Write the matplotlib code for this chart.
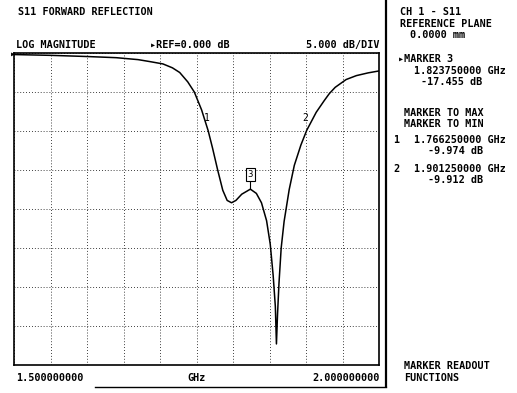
import matplotlib
matplotlib.use("Agg")
from matplotlib import pyplot as plt

# Data
freq_ghz = [1.500, 1.550, 1.600, 1.640, 1.670, 1.686, 1.704, 1.717, 1.727, 1.738,
            1.747, 1.757, 1.766, 1.772, 1.779, 1.786, 1.792, 1.798, 1.804, 1.812,
            1.8238, 1.832, 1.839, 1.846, 1.851, 1.855, 1.858, 1.8595, 1.861, 1.863,
            1.866, 1.870, 1.877, 1.884, 1.893, 1.901, 1.914, 1.925, 1.932, 1.940,
            1.955, 1.969, 1.985, 2.000]
s11_db = [-0.2, -0.3, -0.45, -0.6, -0.85, -1.1, -1.4, -1.9, -2.5, -3.7,
          -5.0, -7.3, -9.97, -12.2, -15.0, -17.6, -18.9, -19.2, -18.9, -18.1,
          -17.455, -18.0, -19.2, -21.5, -24.5, -28.5, -32.5, -37.3, -33.5, -29.5,
          -25.0, -21.6, -17.5, -14.4, -11.8, -9.91, -7.6, -6.1, -5.2, -4.4,
          -3.4, -2.9, -2.55, -2.3]

marker_freq = [1.76625, 1.90125, 1.82375]
marker_db = [-9.974, -9.912, -17.455]

fig = plt.figure(figsize=(5.17, 3.93), dpi=100)
W, H = 517, 393
ax = fig.add_axes([14 / W, 1 - 365 / H, 365 / W, 312 / H])

ax.plot(freq_ghz, s11_db, color="black", linewidth=1.1)
ax.set_xlim(1.5, 2.0)
ax.set_ylim(-40, 0)
ax.set_xticks([1.5 + 0.05 * i for i in range(11)])
ax.set_yticks([-5 * i for i in range(9)])
ax.tick_params(left=False, bottom=False, labelleft=False, labelbottom=False)
ax.grid(True, color="black", linestyle=(0, (1, 2.5)), linewidth=0.6)
for s in ax.spines.values():
    s.set_linewidth(1.2)

# marker annotations
ax.text(marker_freq[0] - 0.002, -8.3, "1", fontsize=7, family="DejaVu Sans Mono",
        ha="center", va="center")
ax.text(marker_freq[1] - 0.002, -8.3, "2", fontsize=7, family="DejaVu Sans Mono",
        ha="center", va="center")
ax.plot([marker_freq[2], marker_freq[2]], [-16.2, marker_db[2]], color="black", lw=0.8)
ax.text(marker_freq[2], -15.6, "3", fontsize=6.5, family="DejaVu Sans Mono",
        ha="center", va="center",
        bbox=dict(boxstyle="square,pad=0.2", fc="white", ec="black", lw=0.8))

font = dict(family="DejaVu Sans Mono", fontsize=7.3, fontweight="bold", color="black")


def t(x, y, s, ha="left"):
    fig.text(x / W, 1 - y / H, s, ha=ha, va="center", **font)


t(18, 12, "S11 FORWARD REFLECTION")
t(16, 45, "LOG MAGNITUDE")
t(150, 45, "▸REF=0.000 dB")
t(380, 45, "5.000 dB/DIV", ha="right")
t(16, 378, "1.500000000")
t(197, 378, "GHz", ha="center")
t(380, 378, "2.000000000", ha="right")

t(400, 12, "CH 1 - S11")
t(400, 24, "REFERENCE PLANE")
t(410, 35, "0.0000 mm")
t(398, 59, "▸MARKER 3")
t(414, 71, "1.823750000 GHz")
t(421, 82, "-17.455 dB")
t(404, 113, "MARKER TO MAX")
t(404, 124, "MARKER TO MIN")
t(393, 140, "1")
t(414, 140, "1.766250000 GHz")
t(428, 151, "-9.974 dB")
t(393, 169, "2")
t(414, 169, "1.901250000 GHz")
t(428, 180, "-9.912 dB")
t(404, 366, "MARKER READOUT")
t(404, 378, "FUNCTIONS")

# separator lines and reference arrow
fig.add_artist(plt.Line2D([386 / W, 386 / W], [1 - 0 / H, 1 - 386 / H], color="black", lw=1.6))
fig.add_artist(plt.Line2D([95 / W, 386 / W], [1 - 387 / H, 1 - 387 / H], color="black", lw=1.0))
t(10, 54, "▸")

fig.savefig("out.png", dpi=100, facecolor="white")
